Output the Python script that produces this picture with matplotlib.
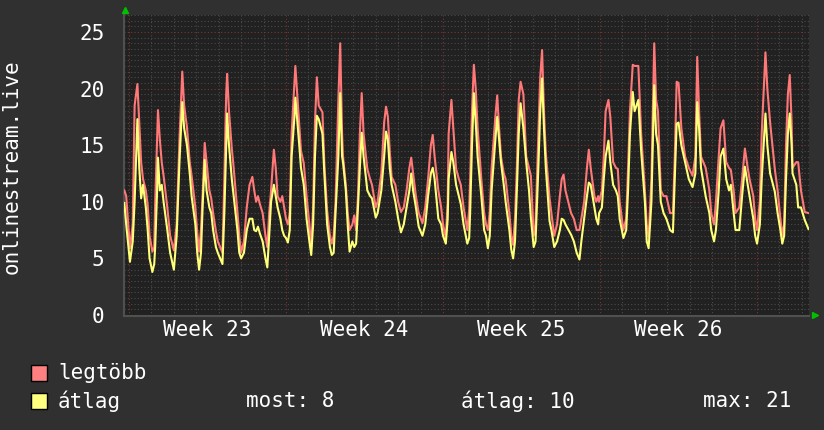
import matplotlib
matplotlib.use("Agg")
import matplotlib.pyplot as plt
from matplotlib.patches import Rectangle
from matplotlib.lines import Line2D

# hours since start of week 23, peak ("legtöbb") and average ("átlag") listeners
hours = [-5, -3, 1, 4, 6, 9, 11, 13, 15, 18, 20, 22, 25, 27, 28, 30, 31, 33, 35, 37,
         41, 44, 48, 51, 54, 56, 57, 59, 62, 65, 67, 71, 73, 75, 77, 79, 81, 83, 86, 88,
         90, 93, 95, 100, 102, 104, 105, 107, 110, 112, 116, 118, 120, 123, 126, 129, 132, 134, 136, 138,
         140, 143, 146, 148, 150, 152, 155, 157, 159, 162, 164, 166, 168, 170, 172, 174, 177, 178, 182, 184,
         187, 190, 193, 195, 197, 199, 201, 203, 207, 209, 212, 215, 217, 219, 221, 224, 226, 228, 229, 232,
         234, 236, 239, 241, 243, 245, 247, 249, 251, 255, 258, 260, 264, 266, 270, 273, 275, 277, 279, 281,
         285, 288, 291, 294, 297, 300, 302, 304, 307, 310, 314, 317, 320, 323, 325, 327, 331, 334, 336, 339,
         341, 342, 345, 347, 350, 353, 355, 358, 362, 364, 365, 367, 369, 371, 373, 377, 380, 382, 384, 386,
         388, 392, 394, 396, 398, 401, 403, 407, 409, 411, 413, 415, 417, 419, 422, 425, 428, 430, 433, 435,
         438, 440, 442, 444, 446, 450, 452, 455, 458, 461, 463, 465, 467, 473, 476, 479, 482, 484, 487, 490,
         492, 494, 498, 500, 502, 503, 506, 508, 510, 513, 515, 518, 521, 523, 525, 529, 532, 534, 536, 539,
         541, 545, 548, 552, 554, 556, 559, 561, 562, 564, 566, 569, 572, 575, 579, 582, 584, 586, 588, 591,
         595, 599, 603, 606, 608, 610, 612, 617, 621, 623, 626, 628, 631, 633, 636, 639, 642, 644, 647, 649,
         653, 656, 659, 662, 664, 668, 670, 672, 675, 677, 681, 683, 686, 691, 694, 697, 699, 701, 703, 705,
         707, 709, 710, 714, 716, 719, 723, 727]

legtobb = [11.0, 10.5, 5.9, 8.0, 18.5, 20.4, 17.0, 13.5, 12.0, 11.0, 9.7, 7.0, 5.6, 6.0, 9.8, 15.5, 18.1, 15.5, 13.5, 12.3,
           9.5, 7.0, 5.7, 8.0, 15.5, 19.5, 21.5, 18.5, 16.6, 13.5, 12.3, 9.5, 7.3, 5.6, 7.5, 11.0, 15.2, 13.5, 11.0, 10.3,
           9.0, 7.4, 6.5, 5.5, 12.0, 19.5, 21.3, 18.0, 14.7, 13.0, 9.1, 7.0, 5.5, 6.5, 9.5, 11.5, 12.2, 11.0, 10.0, 10.5,
           9.8, 9.0, 7.0, 6.0, 9.0, 11.0, 14.6, 13.0, 10.5, 10.0, 10.5, 9.5, 8.5, 8.0, 9.0, 16.0, 20.5, 22.0, 16.9, 14.5,
           13.4, 10.5, 8.0, 6.0, 9.5, 17.0, 21.0, 18.5, 17.9, 13.4, 9.2, 7.0, 6.3, 7.0, 10.0, 19.0, 24.0, 16.0, 14.0, 11.5,
           9.0, 7.5, 8.0, 8.8, 7.5, 10.5, 16.0, 19.6, 16.0, 12.9, 12.0, 11.5, 9.5, 10.0, 12.5, 17.0, 18.4, 17.5, 14.5, 12.2,
           11.5, 10.0, 9.1, 9.5, 11.0, 13.0, 13.9, 12.5, 10.5, 9.0, 8.1, 9.5, 12.0, 15.0, 15.9, 14.0, 11.0, 9.5, 8.0, 6.8,
           10.0, 16.0, 19.0, 16.5, 12.9, 12.0, 11.5, 9.5, 7.5, 9.3, 12.0, 18.0, 22.1, 20.0, 16.5, 12.0, 9.0, 8.0, 7.5, 9.0,
           13.0, 17.5, 19.4, 16.5, 14.0, 12.5, 12.0, 9.0, 7.0, 6.2, 8.5, 13.0, 19.0, 20.6, 19.5, 14.0, 13.0, 12.3, 7.0, 8.0,
           16.0, 21.0, 23.4, 18.0, 14.3, 10.3, 9.0, 7.0, 8.0, 10.5, 12.0, 12.4, 11.0, 9.0, 8.5, 7.5, 7.5, 8.5, 10.0, 13.0,
           14.6, 13.0, 10.5, 10.0, 10.5, 10.0, 11.0, 14.0, 18.0, 19.0, 17.5, 13.5, 13.0, 12.9, 10.0, 7.5, 8.5, 13.0, 18.0, 22.1,
           22.0, 22.0, 16.0, 11.0, 8.0, 6.9, 12.0, 20.0, 24.0, 19.0, 18.0, 11.0, 10.5, 10.5, 9.0, 9.0, 14.0, 20.6, 20.5, 16.5,
           14.0, 13.0, 12.3, 14.0, 22.8, 18.0, 14.0, 13.0, 11.0, 9.0, 8.0, 10.0, 14.0, 16.5, 17.2, 13.5, 13.0, 12.8, 11.0, 9.0,
           9.5, 12.0, 14.7, 13.0, 12.0, 10.5, 8.5, 7.5, 10.0, 16.0, 23.2, 20.0, 17.0, 12.9, 11.0, 8.5, 7.0, 8.0, 15.0, 19.5,
           21.2, 17.0, 13.0, 13.5, 13.5, 11.0, 9.1, 9.0]

atlag = [9.9, 8.0, 4.7, 6.5, 10.0, 17.3, 13.0, 10.3, 11.5, 9.5, 7.5, 5.0, 3.8, 4.5, 6.0, 10.8, 13.9, 11.0, 11.5, 10.0,
         7.5, 5.5, 4.0, 7.0, 13.5, 17.0, 18.8, 16.5, 15.0, 12.5, 10.5, 8.0, 5.5, 4.0, 5.5, 10.0, 13.7, 11.0, 9.5, 9.0,
         7.5, 6.0, 5.5, 4.5, 9.0, 15.0, 17.8, 15.0, 12.0, 10.5, 7.5, 5.5, 5.0, 5.5, 7.5, 8.5, 8.5, 7.5, 7.4, 7.8,
         7.2, 6.5, 5.0, 4.2, 7.0, 10.0, 11.5, 10.5, 9.5, 8.5, 7.5, 7.0, 6.8, 6.4, 7.5, 14.0, 17.5, 19.2, 15.2, 13.0,
         11.5, 8.5, 6.5, 5.3, 8.0, 14.0, 17.6, 17.3, 16.0, 12.5, 8.0, 6.0, 5.3, 5.5, 9.0, 14.0, 19.6, 14.0, 13.5, 11.0,
         8.0, 5.6, 6.5, 6.0, 6.3, 9.5, 13.0, 16.1, 14.0, 11.0, 10.5, 10.3, 8.6, 9.0, 11.0, 14.0, 16.2, 15.5, 13.0, 11.5,
         10.0, 8.5, 7.3, 8.0, 9.5, 11.0, 12.5, 11.0, 9.5, 7.8, 7.0, 8.0, 10.5, 12.5, 13.0, 12.0, 8.5, 8.0, 7.0, 6.3,
         8.5, 12.0, 14.4, 13.5, 11.5, 10.5, 9.8, 8.0, 6.3, 6.8, 9.0, 15.0, 19.6, 17.0, 14.0, 10.5, 7.5, 7.0, 5.9, 7.0,
         11.0, 15.5, 17.5, 15.5, 13.5, 11.5, 10.0, 7.5, 5.8, 5.0, 6.5, 11.0, 16.0, 18.7, 16.5, 13.5, 11.0, 8.6, 6.0, 6.5,
         13.0, 18.0, 20.9, 16.5, 13.0, 8.3, 7.5, 6.0, 6.5, 7.5, 8.5, 8.4, 8.0, 7.1, 6.5, 5.5, 4.9, 6.5, 8.5, 10.5,
         11.7, 11.5, 9.5, 8.5, 8.0, 9.0, 9.5, 12.0, 14.0, 15.4, 13.5, 11.5, 11.0, 10.5, 8.5, 6.8, 7.5, 11.0, 16.0, 19.7,
         18.0, 19.0, 14.5, 10.0, 6.5, 5.9, 10.0, 17.0, 20.3, 16.0, 15.0, 10.0, 9.0, 8.5, 7.5, 7.3, 12.0, 16.9, 17.0, 15.0,
         13.5, 12.0, 11.3, 12.5, 18.8, 16.5, 13.0, 10.5, 9.0, 7.5, 6.5, 7.5, 11.0, 14.0, 14.7, 12.0, 11.0, 11.5, 9.0, 7.5,
         7.5, 10.5, 13.1, 11.5, 10.5, 8.5, 7.0, 6.3, 8.0, 12.0, 17.8, 15.0, 12.5, 10.9, 9.0, 7.5, 6.3, 7.0, 12.0, 16.0,
         17.8, 15.0, 12.5, 11.5, 9.5, 9.5, 8.4, 7.6]

week_labels = ["Week 23", "Week 24", "Week 25", "Week 26"]
summary = ["most: 8", "átlag: 10", "max: 21"]

bg = "#303030"
plot_bg = "#212121"
red = "#ff7878"
yellow = "#ffff78"
font = "DejaVu Sans Mono"

fig = plt.figure(figsize=(8.24, 4.30), dpi=100, facecolor=bg)
ax = fig.add_axes([124 / 824, 1 - 316 / 430, 685 / 824, 301 / 430])
ax.set_facecolor(plot_bg)

# grid: minor grey dotted, major reddish dotted
for v in range(0, 54):
    y = v * 0.5
    if v % 10 == 0:
        ax.axhline(y, color="#7a3434", lw=0.8, ls=(0, (1, 2)), zorder=1)
    else:
        ax.axhline(y, color="#4a4a4a", lw=0.8, ls=(0, (1, 2)), zorder=1)
for d in range(0, 31):
    if d % 7 == 0:
        ax.axvline(d * 24, color="#7a3434", lw=0.8, ls=(0, (1, 2)), zorder=1)
    else:
        ax.axvline(d * 24, color="#4a4a4a", lw=0.8, ls=(0, (1, 2)), zorder=1)

ax.plot(hours, legtobb, color=red, lw=1.5, zorder=3)
ax.plot(hours, atlag, color=yellow, lw=1.5, zorder=4)

ax.set_xlim(-5.35, 727.6)
ax.set_ylim(-0.09, 26.5)

ax.set_yticks([0, 5, 10, 15, 20, 25])
ax.set_yticklabels(["0", "5", "10", "15", "20", "25"], fontsize=15, family=font, color="white")
ax.set_xticks([3.5 * 24, 10.5 * 24, 17.5 * 24, 24.5 * 24])
ax.set_xticklabels(week_labels, fontsize=15, family=font, color="white")
ax.tick_params(axis="y", length=0, pad=14)
ax.tick_params(axis="x", length=0, pad=3)

for s in ["top", "right"]:
    ax.spines[s].set_visible(False)
for s in ["left", "bottom"]:
    ax.spines[s].set_color("#505050")
    ax.spines[s].set_linewidth(1.5)

fig.text(12 / 824, 1 - 167 / 430, "onlinestream.live", rotation=90, fontsize=15,
         family=font, color="white", ha="center", va="center")

# green arrows on axis ends
fig.add_artist(Line2D([125 / 824], [1 - 10 / 430], marker="^", color="#00c000",
                      markersize=5, transform=fig.transFigure))
fig.add_artist(Line2D([815 / 824], [1 - 315 / 430], marker=">", color="#00c000",
                      markersize=5, transform=fig.transFigure))

# legend
fig.add_artist(Rectangle((31 / 824, 1 - 381 / 430), 16 / 824, 16 / 430, facecolor="#ff8080",
                         edgecolor="black", lw=1, transform=fig.transFigure))
fig.add_artist(Rectangle((31 / 824, 1 - 409 / 430), 16 / 824, 16 / 430, facecolor="#ffff80",
                         edgecolor="black", lw=1, transform=fig.transFigure))
fig.text(58 / 824, 1 - 373 / 430, "legtöbb", fontsize=15, family=font, color="white", va="center")
fig.text(58 / 824, 1 - 401 / 430, "átlag", fontsize=15, family=font, color="white", va="center")
for xp, s in zip([246, 461, 703], summary):
    fig.text(xp / 824, 1 - 401 / 430, s, fontsize=15, family=font, color="white", va="center")

fig.savefig("out.png", dpi=100, facecolor=bg)
